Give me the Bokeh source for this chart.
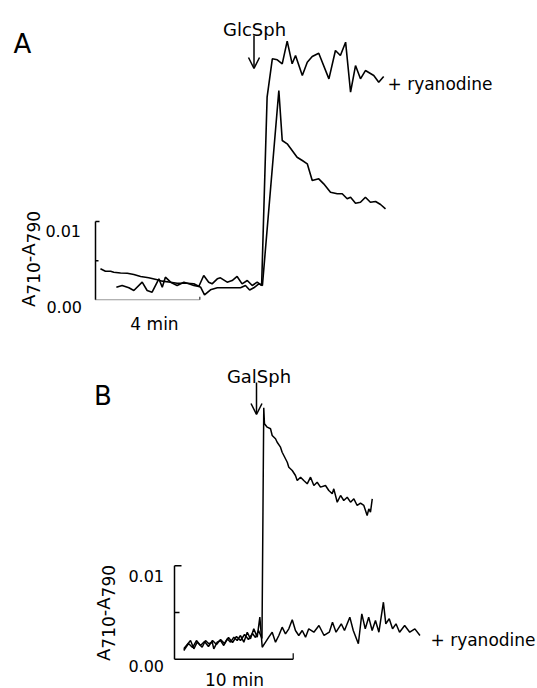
import math
from bokeh.plotting import figure
from bokeh.models import Range1d, Label, Arrow, OpenHead
from bokeh.layouts import column
from bokeh.embed import file_html
from bokeh.resources import INLINE

# ---------------- data ----------------
# time in min from the start of the time scale bar, signal = A710 - A790
a_ctrl_t = [0.19, 0.38, 0.58, 0.70, 0.96, 1.22, 1.47, 1.73, 2.04, 2.37,
            2.56, 2.88, 3.13, 3.52, 3.77, 4.03, 4.18, 4.41, 4.67, 5.56,
            5.75, 5.91, 6.07, 6.26, 6.40, 7.03, 7.16, 7.35, 7.54, 7.73,
            7.93, 8.12, 8.31, 8.56, 8.75, 9.01, 9.27, 9.46, 9.65, 9.78,
            9.97, 10.16, 10.35, 10.54, 10.74, 10.93, 11.12]
a_ctrl_v = [0.00396, 0.00365, 0.00365, 0.00352, 0.00342, 0.00340, 0.00323, 0.00298, 0.00281, 0.00255,
            0.00238, 0.00225, 0.00212, 0.00212, 0.00204, 0.00161, 0.00064, 0.00128, 0.00153, 0.00153,
            0.00183, 0.00125, 0.00153, 0.00204, 0.00183, 0.02673, 0.02034, 0.01992, 0.01907, 0.01821,
            0.01779, 0.01737, 0.01524, 0.01545, 0.01481, 0.01374, 0.01354, 0.01354, 0.01290, 0.01310,
            0.01234, 0.01246, 0.01310, 0.01246, 0.01255, 0.01217, 0.01162]

a_ryan_t = [0.80, 1.02, 1.28, 1.47, 1.79, 1.98, 2.17, 2.43, 2.56, 2.68,
            2.88, 3.13, 3.39, 3.58, 3.77, 3.96, 4.15, 4.34, 4.47, 4.67,
            4.79, 5.05, 5.24, 5.43, 5.62, 5.82, 6.01, 6.20, 6.37, 6.58,
            6.78, 6.97, 7.16, 7.35, 7.54, 7.67, 7.93, 8.12, 8.31, 8.56,
            8.95, 9.20, 9.39, 9.59, 9.78, 9.97, 10.16, 10.35, 10.67, 10.86, 11.05]
a_ryan_v = [0.00161, 0.00183, 0.00153, 0.00119, 0.00225, 0.00119, 0.00097, 0.00268, 0.00161, 0.00289,
            0.00225, 0.00183, 0.00225, 0.00204, 0.00183, 0.00170, 0.00310, 0.00225, 0.00204, 0.00268,
            0.00281, 0.00225, 0.00246, 0.00298, 0.00204, 0.00246, 0.00183, 0.00225, 0.00183, 0.02588,
            0.03078, 0.03065, 0.03014, 0.03303, 0.03014, 0.03120, 0.02865, 0.03034, 0.03107, 0.03149,
            0.02822, 0.03184, 0.03120, 0.03290, 0.02651, 0.02992, 0.02822, 0.02928, 0.02865, 0.02779, 0.02852]

b_ctrl_t = [0.78, 1.18, 1.52, 1.85, 2.19, 2.53, 2.86, 3.20, 3.54, 3.88,
            4.21, 4.55, 4.89, 5.22, 5.56, 5.90, 6.23, 6.57, 6.82, 7.08,
            7.37, 7.52, 7.58, 7.81, 8.09, 8.23, 8.51, 8.65, 8.93, 9.07,
            9.21, 9.50, 9.63, 9.92, 10.19, 10.34, 10.62, 10.89, 11.18, 11.46,
            11.74, 12.02, 12.30, 12.72, 13.00, 13.29, 13.42, 13.71, 13.99, 14.26,
            14.55, 14.83, 15.11, 15.39, 15.67, 15.95, 16.23, 16.37, 16.51, 16.66]
b_ctrl_v = [0.00093, 0.00168, 0.00125, 0.00200, 0.00147, 0.00190, 0.00136, 0.00200, 0.00157, 0.00211,
            0.00168, 0.00232, 0.00179, 0.00243, 0.00200, 0.00264, 0.00211, 0.00275, 0.00232, 0.00307,
            0.00222, 0.02692, 0.02520, 0.02484, 0.02467, 0.02395, 0.02360, 0.02323, 0.02270, 0.02216,
            0.02181, 0.02109, 0.02056, 0.02020, 0.01967, 0.01913, 0.01949, 0.01913, 0.01878, 0.01949,
            0.01860, 0.01895, 0.01842, 0.01860, 0.01806, 0.01771, 0.01824, 0.01681, 0.01753, 0.01699,
            0.01734, 0.01681, 0.01717, 0.01646, 0.01670, 0.01646, 0.01539, 0.01610, 0.01574, 0.01717]

b_ryan_t = [0.78, 1.35, 1.63, 1.91, 2.33, 2.61, 2.89, 3.18, 3.31, 3.60,
            3.88, 4.15, 4.44, 4.72, 5.00, 5.28, 5.56, 5.84, 6.13, 6.40,
            6.68, 6.97, 7.19, 7.39, 7.67, 7.94, 8.23, 8.51, 8.79, 9.07,
            9.35, 9.63, 9.92, 10.19, 10.47, 10.76, 11.04, 11.31, 11.74, 12.17,
            12.60, 13.04, 13.31, 13.61, 14.05, 14.32, 14.77, 15.06, 15.49, 15.78,
            16.07, 16.36, 16.65, 16.93, 17.22, 17.60, 17.80, 18.09, 18.37, 18.66,
            18.96, 19.39, 19.82, 20.25, 20.68]
b_ryan_v = [0.00111, 0.00200, 0.00111, 0.00182, 0.00128, 0.00200, 0.00165, 0.00182, 0.00111, 0.00182,
            0.00200, 0.00147, 0.00218, 0.00182, 0.00236, 0.00200, 0.00254, 0.00182, 0.00289, 0.00218,
            0.00325, 0.00236, 0.00450, 0.00128, 0.00182, 0.00236, 0.00289, 0.00182, 0.00254, 0.00343,
            0.00272, 0.00325, 0.00422, 0.00307, 0.00254, 0.00307, 0.00236, 0.00325, 0.00289, 0.00361,
            0.00254, 0.00289, 0.00396, 0.00289, 0.00379, 0.00307, 0.00450, 0.00307, 0.00165, 0.00486,
            0.00325, 0.00450, 0.00307, 0.00414, 0.00289, 0.00610, 0.00379, 0.00433, 0.00325, 0.00379,
            0.00289, 0.00361, 0.00289, 0.00325, 0.00254]

scale_abs = 0.01          # vertical scale bar
scale_mid = 0.005         # middle tick
scale_min_a = 4           # horizontal scale bar, panel A (min)
scale_min_b = 10          # horizontal scale bar, panel B (min)
tick_labels = ["0.00", "0.01"]
time_label_a = "4 min"
time_label_b = "10 min"
agent_a = "GlcSph"
agent_b = "GalSph"
ryan_label = "+ ryanodine"

# ---------------- layout ----------------
W = 537
M = 0          # the Bokeh page template puts the layout at the page's top-left
FONT = "DejaVu Sans"


def panel(top, height, ox, oy, sx, sy):
    """Figure whose frame covers page rows top..top+height; (ox, oy) is the page
    pixel of (t=0, A=0), sx px per min, sy px per absorbance unit."""
    x0 = (M - ox) / sx
    x1 = (M + W - ox) / sx
    y1 = (oy - top) / sy
    y0 = (oy - top - height) / sy
    p = figure(width=W, height=height, x_range=Range1d(x0, x1), y_range=Range1d(y0, y1),
               output_backend="svg", toolbar_location=None, min_border=0,
               x_axis_type=None, y_axis_type=None)
    p.outline_line_color = None
    p.background_fill_color = "white"
    p.border_fill_color = "white"
    X = lambda px: (px - ox) / sx
    Y = lambda py: (oy - py) / sy
    return p, X, Y, sx, sy


def text(p, X, Y, px, py, s, size, align="left", baseline="alphabetic", angle=0.0):
    p.add_layout(Label(x=X(px), y=Y(py), text=s, text_font=FONT, text_font_size=f"{size}px",
                       text_align=align, text_baseline=baseline, angle=angle,
                       text_color="black"))


EM = {"A": 0.684, "-": 0.361, "d": 0.636}


def ylabel(p, X, Y, x_main, x_sub, y_center, main=18, sub=17):
    pieces = [("A", main, x_main), ("710", sub, x_sub), ("-", main, x_main),
              ("A", main, x_main), ("790", sub, x_sub)]
    widths = []
    for s, f, _ in pieces:
        widths.append(sum(EM.get(c, EM["d"]) for c in s) * f)
    y = y_center + sum(widths) / 2
    for (s, f, xb), w in zip(pieces, widths):
        text(p, X, Y, xb, y, s, f, align="left", baseline="alphabetic", angle=math.pi / 2)
        y -= w


def scalebar(p, sx, sy, tmin, top_tick, mid_tick, end_tick, hdash, hcolor, hwidth):
    k = dict(line_color="black", line_width=1.5)
    p.line([0, 0], [0, scale_abs], **k)
    p.line([0, top_tick / sx], [scale_abs, scale_abs], **k)
    p.line([0, mid_tick / sx], [scale_mid, scale_mid], **k)
    p.line([0, tmin], [0, 0], line_color=hcolor, line_width=hwidth, line_dash=hdash)
    p.line([tmin, tmin], [0, end_tick / sy], line_color=hcolor, line_width=1.2)


# ---------------- panel A ----------------
pa, XA, YA, sxa, sya = panel(0, 340, 95, 299.3, 26.08, 7830)
scalebar(pa, sxa, sya, scale_min_a, 4, 3, 3, "1 1", "#333333", 1.1)
pa.line(a_ctrl_t, a_ctrl_v, line_color="black", line_width=1.6)
pa.line(a_ryan_t, a_ryan_v, line_color="black", line_width=1.6)

text(pa, XA, YA, 13, 43.5, "A", 26)
text(pa, XA, YA, 254, 29, agent_a, 18, align="center")
pa.add_layout(Arrow(end=OpenHead(size=11, line_width=1.5, line_color="black"),
                    x_start=XA(253.5), y_start=YA(35), x_end=XA(253.5), y_end=YA(68),
                    line_width=1.5, line_color="black"))
text(pa, XA, YA, 387, 83, ryan_label, 17)
text(pa, XA, YA, 80.5, 230.7, tick_labels[1], 16, align="right")
text(pa, XA, YA, 81.5, 306.7, tick_labels[0], 16, align="right")
text(pa, XA, YA, 154, 323.3, time_label_a, 17, align="center")
ylabel(pa, XA, YA, 27.5, 32.5, 258.5)

# ---------------- panel B ----------------
pb, XB, YB, sxb, syb = panel(340, 348, 174, 658.7, 11.87, 9340)
scalebar(pb, sxb, syb, scale_min_b, 7, 5, 6, "solid", "black", 1.5)
pb.line(b_ryan_t, b_ryan_v, line_color="black", line_width=1.5)
pb.line(b_ctrl_t, b_ctrl_v, line_color="black", line_width=1.5)

text(pb, XB, YB, 93.5, 395, "B", 26)
text(pb, XB, YB, 258.5, 376, agent_b, 18, align="center")
pb.add_layout(Arrow(end=OpenHead(size=11, line_width=1.5, line_color="black"),
                    x_start=XB(256), y_start=YB(382), x_end=XB(256), y_end=YB(414),
                    line_width=1.5, line_color="black"))
text(pb, XB, YB, 430, 639, ryan_label, 17)
text(pb, XB, YB, 163.5, 575, tick_labels[1], 16, align="right")
text(pb, XB, YB, 163.5, 665, tick_labels[0], 16, align="right")
text(pb, XB, YB, 234, 679, time_label_b, 17, align="center")
ylabel(pb, XB, YB, 102.5, 107.5, 612.5)

layout = column(pa, pb, spacing=0)
open("out.html", "w").write(file_html(layout, INLINE))
